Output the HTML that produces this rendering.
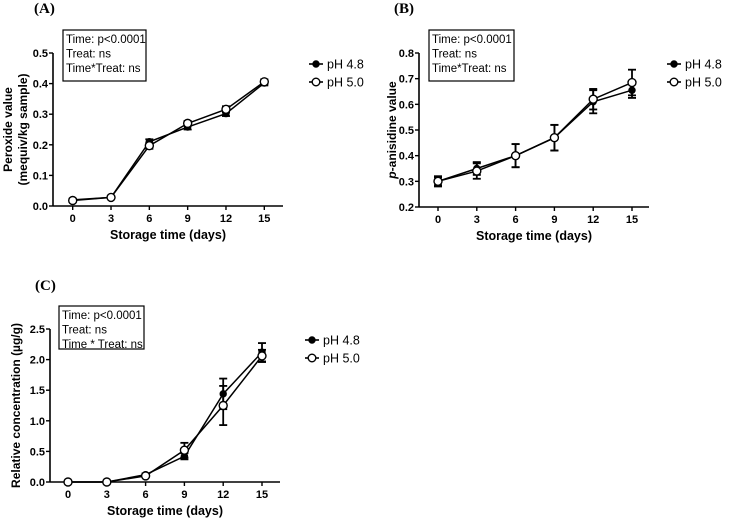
<!DOCTYPE html>
<html><head><meta charset="utf-8"><style>
html,body{margin:0;padding:0;background:#fff;width:729px;height:520px;overflow:hidden}
svg{display:block;font-family:"Liberation Sans",Arial,sans-serif}
</style></head><body>
<svg id="fig" width="729" height="520" viewBox="0 0 729 520"></svg>
<script>
const days = [0,3,6,9,12,15];
const xTickLabels = ["0","3","6","9","12","15"];
const seriesNames = ["pH 4.8","pH 5.0"];
// Panel A - peroxide value
const aPH48 = [0.020,0.028,0.210,0.258,0.302,0.402];
const aPH48Err = [0.004,0.004,0.008,0.008,0.008,0.008];
const aPH50 = [0.018,0.028,0.197,0.270,0.316,0.406];
const aPH50Err = [0.004,0.004,0.010,0.008,0.010,0.008];
const aYTicks = ["0.0","0.1","0.2","0.3","0.4","0.5"];
// Panel B - p-anisidine
const bPH48 = [0.300,0.350,0.400,0.470,0.610,0.655];
const bPH48Err = [0.015,0.025,0.045,0.050,0.045,0.030];
const bPH50 = [0.300,0.340,0.400,0.470,0.620,0.685];
const bPH50Err = [0.020,0.030,0.045,0.050,0.040,0.050];
const bYTicks = ["0.2","0.3","0.4","0.5","0.6","0.7","0.8"];
// Panel C - relative concentration
const cPH48 = [0,0,0.12,0.42,1.44,2.12];
const cPH48Err = [0,0,0.02,0.05,0.25,0.15];
const cPH50 = [0,0,0.10,0.52,1.25,2.06];
const cPH50Err = [0,0,0.02,0.12,0.32,0.10];
const cYTicks = ["0.0","0.5","1.0","1.5","2.0","2.5"];

const NS="http://www.w3.org/2000/svg";
const svg=document.getElementById('fig');
function mk(tag,attrs,parent,text){const e=document.createElementNS(NS,tag);for(const k in attrs)e.setAttribute(k,attrs[k]);if(text!==undefined)e.textContent=text;(parent||svg).appendChild(e);return e;}

function panel(o){
  const g=mk('g',{});
  
  
  const yMin=parseFloat(o.yTicks[0]), yMax=parseFloat(o.yTicks[o.yTicks.length-1]);
  const X=v=>o.x0+(v-days[0])/(days[days.length-1]-days[0])*(o.x15-o.x0);
  const Y=v=>o.yb+(v-yMin)/(yMax-yMin)*(o.yt-o.yb);
  const lab=mk('text',{x:o.labX,y:o.labY,'font-family':'Liberation Serif,serif','font-weight':'bold','font-size':15},g,o.label);
  
  const ya=mk('line',{x1:o.ax,y1:o.yt,x2:o.ax,y2:o.yb,stroke:'#000','stroke-width':1.6},g);
  
  const xa=mk('line',{x1:o.ax,y1:o.yb,x2:o.axEnd,y2:o.yb,stroke:'#000','stroke-width':1.6},g);
  
  o.yTicks.forEach(t=>{const y=Y(parseFloat(t));
    mk('line',{x1:o.ax-4,y1:y,x2:o.ax,y2:y,stroke:'#000','stroke-width':1.4},g);
    const tl=mk('text',{x:o.ax-5,y:y+4,'text-anchor':'end','font-weight':'bold','font-size':11},g,t);
    });
  days.forEach((d,i)=>{const x=X(d);
    mk('line',{x1:x,y1:o.yb,x2:x,y2:o.yb+4,stroke:'#000','stroke-width':1.4},g);
    const tl=mk('text',{x:x,y:o.yb+16,'text-anchor':'middle','font-weight':'bold','font-size':11},g,xTickLabels[i]);
    });
  const xt=mk('text',{x:(o.ax+o.axEnd)/2,y:o.yb+33,'text-anchor':'middle','font-weight':'bold','font-size':12.5},g,'Storage time (days)');
  
  o.yTitle.forEach((s,i)=>{const cx=o.yTitleX[i],cy=(o.yt+o.yb)/2;
    const t=mk('text',{x:cx,y:cy,'text-anchor':'middle','font-weight':'bold','font-size':12,transform:`rotate(-90 ${cx} ${cy})`},g);
    if(s.italicP){mk('tspan',{'font-style':'italic'},t,'p');mk('tspan',{},t,s.rest);}else t.textContent=s;
    });
  const bx=mk('rect',{x:o.box[0],y:o.box[1],width:o.box[2],height:o.box[3],fill:'#fff',stroke:'#000','stroke-width':1.2},g);
  
  o.boxText.forEach((s,i)=>{const t=mk('text',{x:o.box[0]+3,y:o.box[1]+13+i*14.5,'font-size':11.5},g,s);
    });
  const ser=[[o.s1,o.e1,true],[o.s2,o.e2,false]];
  ser.forEach(([vals,errs,filled],si)=>{
    const sg=mk('g',{},g);
    
    vals.forEach((v,i)=>{const x=X(days[i]);if(errs[i]>0){
      const y1=Y(v+errs[i]),y2=Y(v-errs[i]);
      mk('line',{x1:x,y1:y1,x2:x,y2:y2,stroke:'#000','stroke-width':1.8},sg);
      mk('line',{x1:x-4,y1:y1,x2:x+4,y2:y1,stroke:'#000','stroke-width':1.8},sg);
      mk('line',{x1:x-4,y1:y2,x2:x+4,y2:y2,stroke:'#000','stroke-width':1.8},sg);}});
    const pl=mk('polyline',{points:vals.map((v,i)=>X(days[i])+','+Y(v)).join(' '),fill:'none',stroke:'#000','stroke-width':1.5},sg);
    
    vals.forEach((v,i)=>{const c=mk('circle',{cx:X(days[i]),cy:Y(v),r:filled?3:4,fill:filled?'#000':'#fff',stroke:'#000','stroke-width':1.4},sg);
      });
  });
  seriesNames.forEach((n,i)=>{const y=o.leg[1]+i*18;const lg=mk('g',{},g);
    
    mk('line',{x1:o.leg[0]-7,y1:y,x2:o.leg[0]+7,y2:y,stroke:'#000','stroke-width':1.6},lg);
    mk('circle',{cx:o.leg[0],cy:y,r:i?3.8:3,fill:i?'#fff':'#000',stroke:'#000','stroke-width':1.4},lg);
    mk('text',{x:o.leg[0]+11,y:y+4.5,'font-size':12.5},lg,n);});
}
panel({name:'panel-a',label:'(A)',labX:34,labY:13,ax:53,axEnd:283,x0:72.7,x15:264.3,yb:206,yt:53,yTicks:aYTicks,
  yTitle:['Peroxide value','(mequiv/kg sample)'],yTitleX:[12,27],box:[63,30,83,51],boxText:['Time: p<0.0001','Treat: ns','Time*Treat: ns'],
  s1:aPH48,e1:aPH48Err,s2:aPH50,e2:aPH50Err,leg:[316,64]});
panel({name:'panel-b',label:'(B)',labX:394,labY:13,ax:419,axEnd:649,x0:438,x15:632,yb:207,yt:53,yTicks:bYTicks,
  yTitle:[{italicP:true,rest:'-anisidine value'}],yTitleX:[396],box:[429,30,85,51],boxText:['Time: p<0.0001','Treat: ns','Time*Treat: ns'],
  s1:bPH48,e1:bPH48Err,s2:bPH50,e2:bPH50Err,leg:[674,64]});
panel({name:'panel-c',label:'(C)',labX:35,labY:290,ax:50,axEnd:280,x0:68,x15:262,yb:482,yt:329,yTicks:cYTicks,
  yTitle:['Relative concentration (µg/g)'],yTitleX:[20],box:[59,306,85,43],boxText:['Time: p<0.0001','Treat: ns','Time * Treat: ns'],
  s1:cPH48,e1:cPH48Err,s2:cPH50,e2:cPH50Err,leg:[312,340]});
</script>
</body></html>
